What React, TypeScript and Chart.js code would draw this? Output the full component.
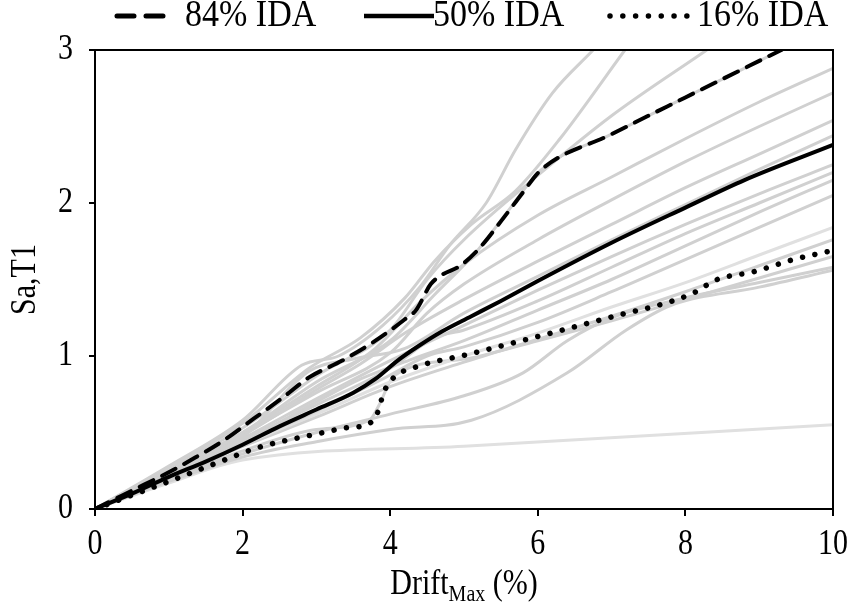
import React, { useEffect, useRef } from "react";
import { Chart, registerables } from "chart.js";

Chart.register(...registerables);

const FONT = '"Liberation Serif", "Times New Roman", serif';

// Axis ticks
const xTickValues = [0, 2, 4, 6, 8, 10];
const yTickValues = [0, 1, 2, 3];

// Fractile IDA curves: [drift (%), Sa,T1]
const ida84 = [
  [0, 0], [0.5, 0.12], [1, 0.24], [1.3, 0.32], [1.75, 0.45], [2.15, 0.59], [2.55, 0.73],
  [2.9, 0.86], [3.35, 0.97], [3.8, 1.1], [4.2, 1.24], [4.35, 1.3], [4.55, 1.47], [4.7, 1.53],
  [4.95, 1.59], [5.2, 1.7], [5.5, 1.88], [5.8, 2.07], [6.03, 2.21], [7, 2.45], [8, 2.69], [9.3, 3.0],
];
const ida50 = [
  [0, 0], [0.5, 0.1], [1, 0.21], [1.5, 0.31], [2, 0.42], [2.5, 0.54], [3, 0.65], [3.5, 0.76],
  [3.8, 0.85], [4.1, 0.97], [4.4, 1.07], [4.7, 1.16], [5.1, 1.26], [5.5, 1.36], [6, 1.49],
  [7, 1.74], [8, 1.97], [8.8, 2.15], [10, 2.38],
];
const ida16 = [
  [0, 0], [0.5, 0.09], [1, 0.18], [1.7, 0.31], [2.2, 0.4], [3, 0.49], [3.4, 0.53], [3.72, 0.56],
  [3.82, 0.62], [3.92, 0.77], [4.05, 0.86], [4.36, 0.93], [5.05, 1.01], [6.26, 1.16], [7.2, 1.28],
  [7.62, 1.33], [8.1, 1.41], [8.43, 1.5], [8.92, 1.55], [9.46, 1.63], [10, 1.69],
];

// Single-record IDA curves
const recA = [[0, 0], [1, 0.28], [2, 0.58], [2.8, 0.94], [3.3, 1.0], [3.9, 1.2], [4.4, 1.45], [4.8, 1.72], [5.3, 2.0], [5.7, 2.35], [6.2, 2.72], [6.75, 3.0]];
const recB = [[0, 0], [1, 0.27], [2, 0.56], [2.9, 0.92], [3.6, 1.12], [4.2, 1.38], [4.6, 1.62], [5.1, 1.86], [5.7, 2.08], [6.3, 2.42], [7.18, 3.0]];
const recC = [[0, 0], [1, 0.26], [2, 0.53], [3, 0.87], [4, 1.17], [4.5, 1.5], [5, 1.76], [6, 2.18], [7, 2.57], [8.29, 3.0]];
const recD = [[0, 0], [1, 0.25], [2, 0.5], [3, 0.83], [4, 1.1], [4.6, 1.4], [5.2, 1.7], [5.6, 1.95], [6.03, 2.21], [7, 2.45], [8, 2.69], [9.3, 3.0]];
const recE = [[0, 0], [1, 0.25], [2, 0.5], [3, 0.8], [3.8, 1.05], [4.4, 1.35], [5, 1.6], [6, 1.92], [7, 2.17], [8, 2.42], [9, 2.66], [10, 2.88]];
const recF = [[0, 0], [1, 0.25], [2, 0.49], [3, 0.76], [4, 1.02], [4.5, 1.28], [5, 1.47], [6, 1.76], [7, 2.02], [8, 2.27], [9, 2.5], [10, 2.72]];
const recG = [[0, 0], [1, 0.24], [2, 0.48], [3, 0.78], [3.6, 0.95], [4.2, 1.15], [5, 1.37], [6, 1.62], [7, 1.86], [8, 2.1], [9, 2.32], [10, 2.54]];
const recH = [[0, 0], [1, 0.24], [2, 0.47], [2.9, 0.9], [3.5, 0.98], [4.2, 1.05], [5, 1.28], [6, 1.52], [7, 1.76], [8, 1.99], [9, 2.22], [10, 2.44]];
const recI = [[0, 0], [1, 0.23], [2, 0.46], [3, 0.72], [4, 0.97], [5, 1.2], [6, 1.43], [7, 1.65], [8, 1.86], [9, 2.06], [10, 2.25]];
const recJ = [[0, 0], [1, 0.23], [2, 0.45], [3, 0.68], [4, 0.92], [4.6, 1.12], [5, 1.17], [6, 1.36], [7, 1.58], [8, 1.8], [9, 2.0], [10, 2.2]];
const recK = [[0, 0], [1, 0.22], [2, 0.44], [3, 0.7], [3.6, 0.85], [4.3, 0.98], [5, 1.1], [6, 1.3], [7, 1.5], [8, 1.72], [9, 1.94], [10, 2.15]];
const recL = [[0, 0], [1, 0.22], [2, 0.43], [3, 0.64], [3.9, 0.85], [4.5, 1.0], [5, 1.06], [6, 1.22], [7, 1.42], [8, 1.63], [9, 1.84], [10, 2.05]];
const recM = [[0, 0], [1, 0.21], [2, 0.42], [3, 0.62], [4, 0.83], [5, 1.0], [6, 1.15], [7, 1.32], [8, 1.48], [9, 1.66], [10, 1.84]];
const recN = [[0, 0], [1, 0.21], [2, 0.41], [3, 0.6], [4, 0.8], [5, 0.96], [6, 1.11], [7, 1.26], [8, 1.42], [9, 1.59], [10, 1.76]];
const recO = [[0, 0], [1, 0.2], [2, 0.38], [3, 0.52], [3.72, 0.58], [3.85, 0.68], [4.05, 0.87], [5, 0.98], [6, 1.1], [7, 1.23], [8, 1.37], [9, 1.51], [10, 1.65]];
const recP = [[0, 0], [1, 0.19], [2, 0.36], [3, 0.5], [4, 0.62], [5, 0.74], [5.8, 0.89], [6.4, 1.1], [7, 1.25], [8, 1.38], [9, 1.48], [10, 1.58]];
const recQ = [[0, 0], [1, 0.18], [2, 0.34], [3, 0.44], [4, 0.52], [5.1, 0.58], [6.4, 0.89], [7.2, 1.17], [7.8, 1.33], [9, 1.45], [10, 1.56]];
const recR = [[0, 0], [1, 0.17], [2, 0.32], [5, 0.41], [10, 0.55]];

const records = [recA, recB, recC, recD, recE, recF, recG, recH, recI, recJ, recK, recL, recM, recN, recO, recP, recQ, recR];
const paleRecords = [recM, recR];

const legendLabels = ["84% IDA", "50% IDA", "16% IDA"];

const toXY = (pts: number[][]) => pts.map(([x, y]) => ({ x, y }));

// Text in this figure is set a little taller than wide
const STRETCH = 1.2;

function drawText(
  ctx: CanvasRenderingContext2D,
  text: string,
  x: number,
  y: number,
  size: number,
  align: CanvasTextAlign,
  baseline: CanvasTextBaseline = "middle",
  sy = STRETCH,
) {
  ctx.save();
  ctx.translate(x, y);
  ctx.scale(1, sy);
  ctx.font = `${size}px ${FONT}`;
  ctx.textAlign = align;
  ctx.textBaseline = baseline;
  ctx.fillStyle = "#000";
  ctx.fillText(text, 0, 0);
  ctx.restore();
}

const framePlugin = {
  id: "frame",
  afterDatasetsDraw(chart: any) {
    const { ctx, chartArea: a } = chart;
    ctx.save();
    ctx.strokeStyle = "#000";
    ctx.lineWidth = 2;
    ctx.strokeRect(a.left, a.top, a.right - a.left, a.bottom - a.top);
    ctx.restore();
  },
};

const textPlugin = {
  id: "texts",
  afterDraw(chart: any) {
    const { ctx, chartArea: a, scales } = chart;
    ctx.save();

    // Tick labels
    xTickValues.forEach((v) => {
      drawText(ctx, String(v), scales.x.getPixelForValue(v), 545, 30, "center");
    });
    yTickValues.forEach((v) => {
      drawText(ctx, String(v), 73, scales.y.getPixelForValue(v), 30, "right");
    });

    // Legend
    const ly = 16;
    ctx.strokeStyle = "#000";
    ctx.lineWidth = 5;
    ctx.lineCap = "round";
    ctx.setLineDash([17, 12]);
    ctx.beginPath();
    ctx.moveTo(117, ly);
    ctx.lineTo(166, ly);
    ctx.stroke();
    drawText(ctx, legendLabels[0], 185, ly, 34, "left", "middle", 1.1);

    ctx.setLineDash([]);
    ctx.lineCap = "butt";
    ctx.lineWidth = 4.5;
    ctx.beginPath();
    ctx.moveTo(364, ly);
    ctx.lineTo(434, ly);
    ctx.stroke();
    drawText(ctx, legendLabels[1], 433, ly, 34, "left", "middle", 1.1);

    ctx.lineCap = "round";
    ctx.lineWidth = 5.5;
    ctx.setLineDash([0.01, 12.8]);
    ctx.beginPath();
    ctx.moveTo(610, ly);
    ctx.lineTo(692, ly);
    ctx.stroke();
    ctx.setLineDash([]);
    drawText(ctx, legendLabels[2], 697, ly, 34, "left", "middle", 1.1);

    // y-axis title
    ctx.save();
    ctx.translate(26, (a.top + a.bottom) / 2);
    ctx.rotate(-Math.PI / 2);
    drawText(ctx, "Sa,T1", 0, 0, 30, "center", "middle", 1.2);
    ctx.restore();

    // x-axis title with subscript
    const main = "Drift";
    const sub = "Max";
    const tail = " (%)";
    ctx.font = `30px ${FONT}`;
    const wMain = ctx.measureText(main).width;
    const wTail = ctx.measureText(tail).width;
    ctx.font = `20px ${FONT}`;
    const wSub = ctx.measureText(sub).width;
    const total = wMain + wSub + wTail;
    let x = (a.left + a.right) / 2 - total / 2;
    const by = 594;
    drawText(ctx, main, x, by, 30, "left", "alphabetic");
    x += wMain;
    drawText(ctx, sub, x, by + 7, 20, "left", "alphabetic");
    x += wSub;
    drawText(ctx, tail, x, by, 30, "left", "alphabetic");
    ctx.restore();
  },
};

export default function App() {
  const canvasRef = useRef<HTMLCanvasElement>(null);

  useEffect(() => {
    document.body.style.margin = "0";
    const canvas = canvasRef.current;
    if (!canvas) return;

    const fractiles = [
      { data: toXY(ida84), borderColor: "#000", borderWidth: 4, borderDash: [15, 10], borderCapStyle: "round" },
      { data: toXY(ida50), borderColor: "#000", borderWidth: 4 },
      { data: toXY(ida16), borderColor: "#000", borderWidth: 5.5, borderDash: [0.01, 12.6], borderCapStyle: "round" },
    ].map((d) => ({ ...d, pointRadius: 0, cubicInterpolationMode: "monotone", order: 0 }));

    const recordSets = records.map((r) => ({
      data: toXY(r),
      borderColor: paleRecords.includes(r) ? "#e0e0e0" : "#d0d0d0",
      borderWidth: 3,
      pointRadius: 0,
      cubicInterpolationMode: "monotone",
      order: 1,
    }));

    const chart = new Chart(canvas, {
      type: "line",
      data: { datasets: [...fractiles, ...recordSets] as any },
      options: {
        animation: false,
        responsive: true,
        maintainAspectRatio: false,
        layout: { padding: { top: 50, right: 20, left: 0, bottom: 0 } },
        plugins: { legend: { display: false }, tooltip: { enabled: false } },
        scales: {
          x: {
            type: "linear",
            min: 0,
            max: 10,
            afterBuildTicks: (s: any) => {
              s.ticks = xTickValues.map((v) => ({ value: v }));
            },
            afterFit: (s: any) => {
              s.height = 99;
            },
            ticks: { color: "rgba(0,0,0,0)", font: { family: FONT, size: 30 }, maxRotation: 0 },
            grid: { drawOnChartArea: false, drawTicks: true, tickLength: 7, color: "#000", lineWidth: 2 },
            border: { color: "#000", width: 2 },
          },
          y: {
            type: "linear",
            min: 0,
            max: 3,
            afterBuildTicks: (s: any) => {
              s.ticks = yTickValues.map((v) => ({ value: v }));
            },
            afterFit: (s: any) => {
              s.width = 95;
            },
            ticks: { color: "rgba(0,0,0,0)", font: { family: FONT, size: 30 } },
            grid: { drawOnChartArea: false, drawTicks: true, tickLength: 6, color: "#000", lineWidth: 2 },
            border: { color: "#000", width: 2 },
          },
        },
      },
      plugins: [framePlugin, textPlugin],
    });

    return () => chart.destroy();
  }, []);

  return (
    <div style={{ width: 853, height: 608, position: "relative", background: "#fff" }}>
      <canvas ref={canvasRef} />
    </div>
  );
}
